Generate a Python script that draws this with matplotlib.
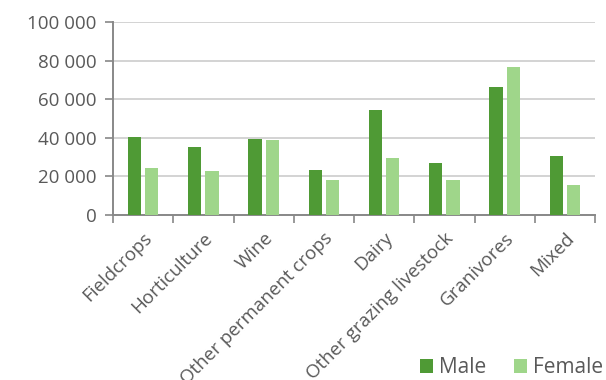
import numpy as np
import matplotlib.pyplot as plt
from matplotlib.ticker import FuncFormatter

categories = ['Fieldcrops', 'Horticulture', 'Wine', 'Other permanent crops',
              'Dairy', 'Other grazing livestock', 'Granivores', 'Mixed']
male = [40300, 35200, 39400, 23100, 54200, 26800, 66500, 30600]
female = [24500, 22800, 39000, 18000, 29400, 18000, 76800, 15500]

plt.rcParams['font.family'] = ['Open Sans', 'DejaVu Sans']
text_col = '#595959'

fig = plt.figure(figsize=(6.06, 3.8), dpi=100)
ax = fig.add_axes([113 / 606, 1 - 215 / 380, 482 / 606, 193 / 380])

x = np.arange(len(categories))
w = 0.22
ax.bar(x - 0.143, male, w, color='#4f9a35', label='Male', zorder=3)
ax.bar(x + 0.143, female, w, color='#9fd68a', label='Female', zorder=3)

ax.set_xlim(-0.5, len(categories) - 0.5)
ax.set_ylim(0, 100000)
ax.set_yticks(range(0, 100001, 20000))
ax.yaxis.set_major_formatter(FuncFormatter(lambda v, p: f'{int(v):,}'.replace(',', ' ')))
ax.grid(axis='y', color='#cccccc', linewidth=1.2, zorder=0)

# category boundaries carry the x ticks
ax.set_xticks(np.arange(-0.5, len(categories)), minor=False)
ax.set_xticklabels([])
ax.set_xticks(x, minor=True)
ax.set_xticklabels(categories, minor=True, rotation=45, ha='right',
                   rotation_mode='anchor', fontsize=13.5, color=text_col)
ax.tick_params(axis='x', which='minor', length=0, pad=10)
ax.tick_params(axis='x', which='major', length=6, color='#888888', width=1.2)
ax.tick_params(axis='y', length=6, color='#888888', width=1.2,
               labelsize=13.5, labelcolor=text_col, pad=6)

for s in ['top', 'right']:
    ax.spines[s].set_visible(False)
for s in ['left', 'bottom']:
    ax.spines[s].set_color('#888888')
    ax.spines[s].set_linewidth(1.4)

fig.legend(loc='lower right', bbox_to_anchor=(1.027, -0.045), ncol=2, frameon=False,
           fontsize=15, labelcolor=text_col, handlelength=0.65, handleheight=0.65,
           handletextpad=0.3, columnspacing=1.3)

fig.savefig('out.png', dpi=100)
